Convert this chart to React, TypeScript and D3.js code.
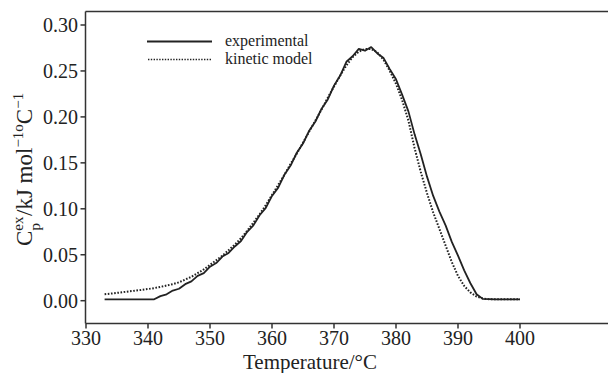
import React from "react";
import * as d3 from "d3";

const expTemps = [333, 341, 342, 343, 344, 345, 346, 347, 348, 349, 350, 351, 352, 353, 354, 355, 356, 357, 358, 359, 360, 361, 362, 363, 364, 365, 366, 367, 368, 369, 370, 371, 372, 373, 374, 375, 376, 377, 378, 379, 380, 381, 382, 383, 384, 385, 386, 387, 388, 389, 390, 391, 392, 393, 394, 396, 398, 400];
const expValues = [0.0015, 0.0015, 0.005, 0.007, 0.011, 0.013, 0.018, 0.021, 0.027, 0.030, 0.037, 0.041, 0.048, 0.052, 0.059, 0.065, 0.075, 0.082, 0.093, 0.101, 0.114, 0.123, 0.137, 0.147, 0.161, 0.171, 0.185, 0.195, 0.209, 0.219, 0.234, 0.245, 0.260, 0.266, 0.274, 0.272, 0.276, 0.269, 0.264, 0.252, 0.241, 0.224, 0.206, 0.181, 0.159, 0.135, 0.114, 0.097, 0.082, 0.064, 0.049, 0.033, 0.019, 0.007, 0.002, 0.0015, 0.0015, 0.0015];

const kinTemps = [333, 334, 335, 336, 337, 338, 339, 340, 341, 342, 343, 344, 345, 346, 347, 348, 349, 350, 351, 352, 353, 354, 355, 356, 357, 358, 359, 360, 361, 362, 363, 364, 365, 366, 367, 368, 369, 370, 371, 372, 373, 374, 375, 376, 377, 378, 379, 380, 381, 382, 383, 384, 385, 386, 387, 388, 389, 390, 391, 392, 393, 394, 395, 400];
const kinValues = [0.007, 0.0077, 0.0085, 0.0093, 0.0102, 0.011, 0.0118, 0.0127, 0.0137, 0.015, 0.0165, 0.018, 0.020, 0.023, 0.026, 0.030, 0.034, 0.039, 0.044, 0.049, 0.055, 0.061, 0.068, 0.076, 0.085, 0.094, 0.104, 0.115, 0.126, 0.137, 0.149, 0.160, 0.172, 0.184, 0.196, 0.208, 0.221, 0.233, 0.245, 0.256, 0.265, 0.271, 0.274, 0.274, 0.270, 0.262, 0.250, 0.236, 0.218, 0.196, 0.166, 0.140, 0.117, 0.096, 0.078, 0.060, 0.042, 0.027, 0.016, 0.009, 0.0045, 0.0025, 0.0015, 0.0015];

const xTicks = [330, 340, 350, 360, 370, 380, 390, 400];
const yTicks = [0.0, 0.05, 0.1, 0.15, 0.2, 0.25, 0.3];
const legendLabels = ["experimental", "kinetic model"];

const W = 608;
const H = 373;
const INK = "#222";
const FONT = "'Liberation Serif', 'Times New Roman', serif";

export default function App() {
  const x = d3.scaleLinear().domain([330, 400]).range([86, 520]);
  const y = d3.scaleLinear().domain([0, 0.3]).range([300.7, 25]);
  const axisLeft = 85.5;
  const axisBottom = 323.5;
  const plotTop = 11.5;

  const expData = expTemps.map((t, i) => [t, expValues[i]] as [number, number]);
  const kinData = kinTemps.map((t, i) => [t, kinValues[i]] as [number, number]);
  const line = d3
    .line<[number, number]>()
    .x((d) => x(d[0]))
    .y((d) => y(d[1]));

  return (
    <svg
      width={W}
      height={H}
      style={{ position: "absolute", left: 0, top: 0, background: "#fff" }}
      fontFamily={FONT}
    >
      <rect x={0} y={0} width={W} height={H} fill="#fff" />
      {/* frame */}
      <line x1={axisLeft} x2={W} y1={plotTop} y2={plotTop} stroke="#333" strokeWidth={1.5} />
      <line x1={axisLeft} x2={axisLeft} y1={plotTop} y2={axisBottom} stroke="#333" strokeWidth={1.5} />
      <line x1={axisLeft} x2={W} y1={axisBottom} y2={axisBottom} stroke="#333" strokeWidth={1.5} />

      {yTicks.map((t) => (
        <g key={"y" + t}>
          <line x1={axisLeft - 5} x2={axisLeft} y1={y(t)} y2={y(t)} stroke="#333" strokeWidth={1.5} />
          <text x={78} y={y(t)} dy="0.34em" textAnchor="end" fontSize={20} fill={INK}>
            {t.toFixed(2)}
          </text>
        </g>
      ))}
      {xTicks.map((t) => (
        <g key={"x" + t}>
          <line x1={x(t)} x2={x(t)} y1={axisBottom} y2={axisBottom + 5} stroke="#333" strokeWidth={1.5} />
          <text x={x(t)} y={345} textAnchor="middle" fontSize={20} fill={INK}>
            {t}
          </text>
        </g>
      ))}

      <text x={310} y={368.5} textAnchor="middle" fontSize={21} fill={INK}>
        Temperature/°C
      </text>

      <g transform="translate(32,246) rotate(-90)">
        <text x={0} y={0} fontSize={23} fill={INK}>
          C
          <tspan fontSize={15} dy={-9}>ex</tspan>
          <tspan fontSize={15} dx={-14} dy={17}>p</tspan>
          <tspan dx={7} dy={-8}>/kJ mol</tspan>
          <tspan fontSize={15} dy={-9}>−1</tspan>
          <tspan fontSize={15}>o</tspan>
          <tspan dy={9}>C</tspan>
          <tspan fontSize={15} dy={-9}>−1</tspan>
        </text>
      </g>

      <path d={line(kinData) || ""} fill="none" stroke={INK} strokeWidth={2} strokeDasharray="1.6 1.6" />
      <path d={line(expData) || ""} fill="none" stroke={INK} strokeWidth={1.8} strokeLinejoin="round" />

      {/* legend */}
      <line x1={147} x2={212} y1={41.5} y2={41.5} stroke={INK} strokeWidth={1.8} />
      <line x1={148} x2={212} y1={59.5} y2={59.5} stroke={INK} strokeWidth={1.6} strokeDasharray="1.4 1.4" />
      <text x={225} y={46} fontSize={16} fill={INK}>{legendLabels[0]}</text>
      <text x={225} y={64} fontSize={16} fill={INK}>{legendLabels[1]}</text>
    </svg>
  );
}
